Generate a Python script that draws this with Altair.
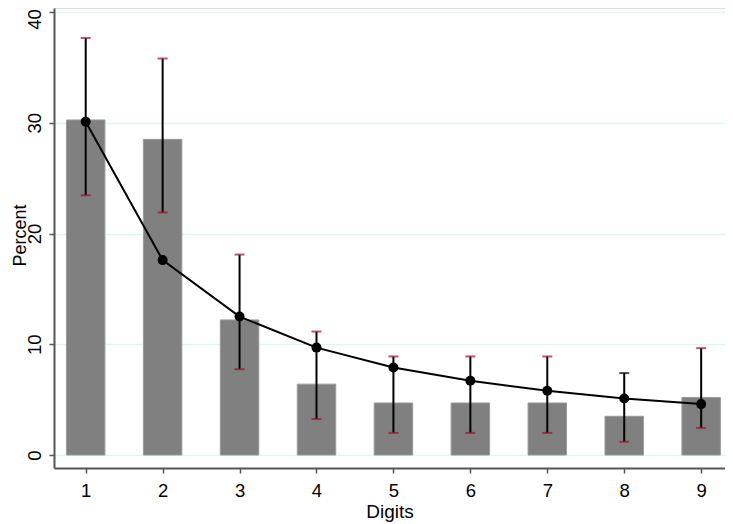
import altair as alt
import pandas as pd

digits = [1, 2, 3, 4, 5, 6, 7, 8, 9]
observed = [30.25, 28.5, 12.2, 6.4, 4.7, 4.7, 4.7, 3.5, 5.2]
expected = [30.1, 17.6, 12.5, 9.7, 7.9, 6.7, 5.8, 5.1, 4.6]
upper = [37.65, 35.8, 18.1, 11.15, 8.9, 8.9, 8.9, 7.4, 9.65]
lower = [23.45, 21.9, 7.75, 3.25, 2.0, 2.0, 2.0, 1.2, 2.45]
upper_cap_color = ["#a0102e"] * 7 + ["#000000", "#a0102e"]
lower_cap_color = ["#a0102e"] * 9

df = pd.DataFrame({"digit": digits, "observed": observed, "expected": expected,
                   "upper": upper, "lower": lower})
caps = pd.DataFrame({
    "digit": digits + digits,
    "value": upper + lower,
    "cap": upper_cap_color + lower_cap_color,
})

FONT = "Liberation Sans"
xscale = alt.Scale(domain=[0.588, 9.31], nice=False, zero=False)
yscale = alt.Scale(domain=[-1.17, 40.36], nice=False, zero=False)

xaxis = alt.Axis(values=digits, title="Digits", grid=False, format="d",
                 labelFontSize=18.5, titleFontSize=19, labelFont=FONT, titleFont=FONT,
                 labelColor="#000", titleColor="#000", titleFontWeight="normal",
                 domainColor="#555555", domainWidth=2, tickColor="#555555", tickWidth=1.5,
                 tickSize=5, labelPadding=8, titlePadding=3)
yaxis = alt.Axis(values=[0, 10, 20, 30, 40], title="Percent", grid=True,
                 gridColor="#dff5ee", gridWidth=1.5,
                 labelFontSize=18.5, titleFontSize=18, labelFont=FONT, titleFont=FONT,
                 labelColor="#000", titleColor="#000", titleFontWeight="normal",
                 labelAngle=270, labelAlign="center", labelBaseline="alphabetic",
                 labelOffset=alt.ExprRef(expr="datum.value == 40 ? 7 : 0"),
                 domainColor="#555555", domainWidth=2, tickColor="#555555", tickWidth=1.5,
                 tickSize=5, labelPadding=9,
                 titleAngle=270, titleAlign="center", titleBaseline="alphabetic",
                 titleX=-29, titleY=227)

base = alt.Chart(df)

bars = base.transform_calculate(
    x1="datum.digit - 0.25", x2="datum.digit + 0.25"
).mark_bar(color="#808080", stroke="#9a9a9a", strokeWidth=1).encode(
    x=alt.X("x1:Q", scale=xscale, axis=xaxis),
    x2="x2:Q",
    y=alt.Y("observed:Q", scale=yscale, axis=yaxis),
    y2=alt.datum(0),
)

rules = base.mark_rule(color="#000000", strokeWidth=2).encode(
    x=alt.X("digit:Q", scale=xscale),
    y=alt.Y("lower:Q", scale=yscale),
    y2="upper:Q",
)

capmarks = alt.Chart(caps).mark_tick(orient="horizontal", size=10, thickness=2).encode(
    x=alt.X("digit:Q", scale=xscale),
    y=alt.Y("value:Q", scale=yscale),
    color=alt.Color("cap:N", scale=None),
)

line = base.mark_line(color="#000000", strokeWidth=2).encode(
    x=alt.X("digit:Q", scale=xscale),
    y=alt.Y("expected:Q", scale=yscale),
)

points = base.mark_circle(color="#000000", size=100, opacity=1).encode(
    x=alt.X("digit:Q", scale=xscale),
    y=alt.Y("expected:Q", scale=yscale),
)

chart = alt.layer(bars, rules, capmarks, line, points).properties(
    width=671, height=460,
    autosize=alt.AutoSizeParams(type="none"),
    padding={"left": 46, "top": 0, "right": 0, "bottom": 56},
).configure_view(stroke=None).configure(background="white")

chart.save("out.html", embed_options={"renderer": "svg", "actions": False})
